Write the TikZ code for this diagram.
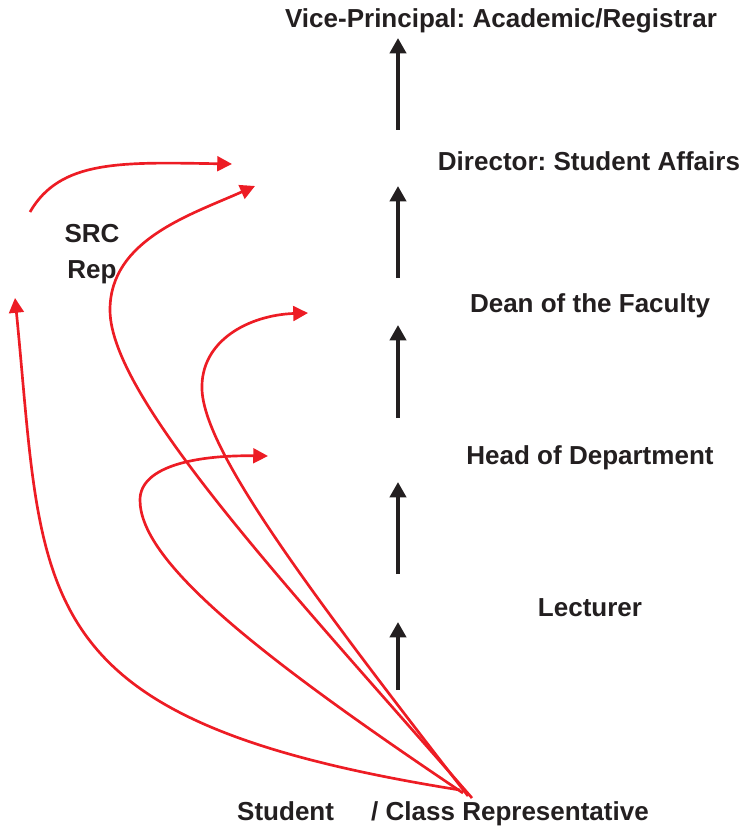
\documentclass[tikz,border=0pt]{standalone}
\usepackage{fontspec}
\setmainfont{Liberation Sans}
\usetikzlibrary{arrows.meta}
\frenchspacing

\begin{document}
\begin{tikzpicture}[x=0.025cm,y=-0.025cm,line cap=butt]
  % Colors
  \definecolor{textcolor}{HTML}{231F20}
  \definecolor{routecolor}{HTML}{ED1C24}
  \colorlet{rankcolor}{textcolor}

  % Styles
  \tikzstyle{level}=[font=\fontsize{18.5}{22}\selectfont\bfseries,text=textcolor,inner sep=0pt]
  \tikzstyle{rank arrow}=[line width=3.5pt,rankcolor,-{Triangle[length=11pt,width=11.5pt]}]
  \tikzstyle{route}=[line width=1.9pt,routecolor,-{Triangle[length=10.5pt,width=10.5pt]}]

  % The graphic
  \useasboundingbox (0,0) rectangle (745,833);

  \node[style=level] (vp)   at (501,21)  {Vice-Principal: Academic/Registrar};
  \node[style=level] (dir)  at (589,161) {Director: Student Affairs};
  \node[style=level] (dean) at (590,306) {Dean of the Faculty};
  \node[style=level] (hod)  at (590,458) {Head of Department};
  \node[style=level] (lect) at (590,608) {Lecturer};
  \node[style=level,align=center] (src) at (92,254) {SRC\\[4pt]Rep};
  \node[style=level] (stud) at (443,814) {Student\hspace{1.15em} / Class Representative};

  % upward line of the levels
  \foreach \n/\b/\t in {1/690/622, 2/574/482, 3/418/325, 4/278/186, 5/130/38}
  {
    \coordinate (low\n) at (398,\b);
    \coordinate (high\n) at (398,\t);
    \draw[style=rank arrow] (low\n) -- (high\n);
  }

  % where the red routes start and end
  \coordinate (fromE) at (460,790);
  \coordinate (fromD) at (463,793);
  \coordinate (fromC) at (468,796);
  \coordinate (fromB) at (472,798);
  \coordinate (fromA) at (30,212);

  \coordinate (toSRC)  at (15,298);
  \coordinate (toHOD)  at (268,456);
  \coordinate (toDEAN) at (308,313);
  \coordinate (toDIR)  at (255,186);
  \coordinate (toTOP)  at (232,164);

  \draw[style=route] (fromE) .. controls (20,720) and (45,600) .. (toSRC);
  \draw[style=route] (fromD) .. controls (250,650) and (140,560) .. (140,500)
    .. controls (140,465) and (200,455) .. (toHOD);
  \draw[style=route] (fromC) .. controls (300,580) and (205,450) .. (202,390)
    .. controls (200,340) and (250,315) .. (toDEAN);
  \draw[style=route] (fromB) .. controls (300,600) and (110,400) .. (110,310)
    .. controls (110,240) and (190,215) .. (toDIR);
  \draw[style=route] (fromA) .. controls (60,160) and (120,162) .. (toTOP);
\end{tikzpicture}
\end{document}
